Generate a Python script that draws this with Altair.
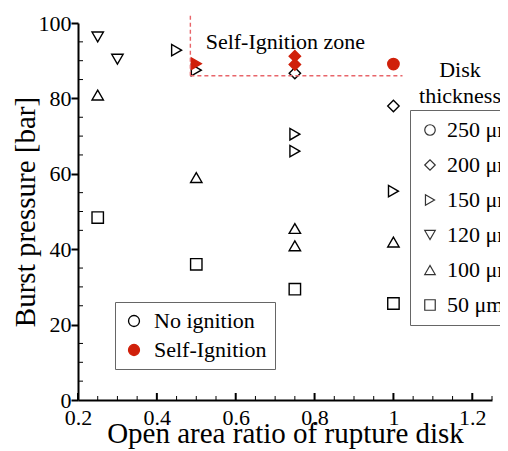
import altair as alt
import pandas as pd

# ---- data ----
ratio = [0.25, 0.30, 0.45, 0.50, 0.75, 0.75, 1.00, 0.25, 0.50, 0.75, 0.75, 1.00,
         0.25, 0.50, 0.75, 1.00, 0.75, 1.00, 0.50, 0.75, 0.75, 1.00]
pressure = [96.3, 90.4, 92.8, 87.5, 70.5, 66.0, 55.4, 80.9, 59.0, 45.5, 40.9, 41.9,
            48.4, 36.0, 29.4, 25.6, 86.7, 78.0, 89.2, 91.2, 89.0, 89.1]
thickness = ["120 μm", "120 μm", "150 μm", "150 μm", "150 μm", "150 μm", "150 μm",
             "100 μm", "100 μm", "100 μm", "100 μm", "100 μm",
             "50 μm", "50 μm", "50 μm", "50 μm", "200 μm", "200 μm",
             "150 μm", "200 μm", "200 μm", "250 μm"]
ignition = ["No ignition", "No ignition", "No ignition", "No ignition", "No ignition",
            "No ignition", "No ignition", "No ignition", "No ignition", "No ignition",
            "No ignition", "No ignition", "No ignition", "No ignition", "No ignition",
            "No ignition", "No ignition", "No ignition",
            "Self-Ignition", "Self-Ignition", "Self-Ignition", "Self-Ignition"]

thickness_order = ["250 μm", "200 μm", "150 μm", "120 μm", "100 μm", "50 μm"]
shapes = ["circle", "diamond", "triangle-right", "triangle-down", "triangle-up", "square"]
ignition_order = ["No ignition", "Self-Ignition"]

x_major = [0.2, 0.4, 0.6, 0.8, 1, 1.2]
x_minor = [0.25, 0.3, 0.35, 0.45, 0.5, 0.55, 0.65, 0.7, 0.75, 0.85, 0.9, 0.95,
           1.05, 1.1, 1.15, 1.25]
y_major = [0, 20, 40, 60, 80, 100]
y_minor = [5, 10, 15, 25, 30, 35, 45, 50, 55, 65, 70, 75, 85, 90, 95]

zone_x = [0.485, 1.023]
zone_y = [86.0, 102.0]
zone_label = "Self-Ignition zone"
zone_label_pos = [0.726, 93.0]

RED = "#d0200a"
DASH = "#e8656a"
FONT = "Liberation Serif"
W, H = 414, 377

df = pd.DataFrame({"ratio": ratio, "pressure": pressure,
                   "thickness": thickness, "ignition": ignition})

xscale = alt.Scale(domain=[0.2, 1.25], nice=False, zero=False)
yscale = alt.Scale(domain=[0, 100], nice=False, zero=False)

ign_legend = alt.Legend(
    title=None, orient="none", legendX=37, legendY=279,
    symbolType="circle", symbolSize=120, symbolStrokeWidth=1.3,
    labelFont=FONT, labelFontSize=22, labelColor="black", labelOffset=9,
    rowPadding=7, padding=8, strokeColor="#666", fillColor="white",
)

points = alt.Chart(df).mark_point(filled=True, size=130, strokeWidth=1.4, opacity=1).encode(
    x=alt.X("ratio:Q", scale=xscale,
            axis=alt.Axis(values=x_major, format="~g", title="Open area ratio of rupture disk",
                          ticks=False, tickSize=0, labelPadding=7, labelFlush=False,
                          titlePadding=-9, grid=False)),
    y=alt.Y("pressure:Q", scale=yscale,
            axis=alt.Axis(values=y_major, title="Burst pressure [bar]",
                          tickSize=7, tickWidth=2, tickColor="black", labelPadding=0,
                          labelFlush=False, titlePadding=-2, grid=False)),
    shape=alt.Shape("thickness:N", scale=alt.Scale(domain=thickness_order, range=shapes),
                    legend=alt.Legend(
                        title=None, orient="none", legendX=332, legendY=87,
                        symbolSize=110, symbolStrokeColor="#333", symbolFillColor="transparent",
                        symbolStrokeWidth=1.2, labelFont=FONT, labelFontSize=22,
                        labelColor="black", labelOffset=6, rowPadding=13, padding=9,
                        strokeColor="#666", fillColor="white",
                        labelExpr="datum.label == '50 μm' ? '\u2007' + datum.label : datum.label")),
    fill=alt.Fill("ignition:N", scale=alt.Scale(domain=ignition_order, range=["transparent", RED]),
                  legend=ign_legend),
    stroke=alt.Stroke("ignition:N", scale=alt.Scale(domain=ignition_order, range=["black", RED]),
                      legend=ign_legend),
)

# inward major x ticks
xt = alt.Chart(pd.DataFrame({"ratio": x_major})).mark_rule(color="black", strokeWidth=2).encode(
    x=alt.X("ratio:Q", scale=xscale),
    y=alt.value(H), y2=alt.value(H - 7))
# inward minor x ticks
xm = alt.Chart(pd.DataFrame({"ratio": x_minor})).mark_rule(color="black", strokeWidth=1).encode(
    x=alt.X("ratio:Q", scale=xscale),
    y=alt.value(H), y2=alt.value(H - 4))
# inward minor y ticks
ym = alt.Chart(pd.DataFrame({"pressure": y_minor})).mark_rule(color="black", strokeWidth=1).encode(
    y=alt.Y("pressure:Q", scale=yscale),
    x=alt.value(0), x2=alt.value(5))

# dashed self-ignition zone boundary
vline = alt.Chart(pd.DataFrame({"a": [0]})).mark_rule(
    color=DASH, strokeWidth=1.4, strokeDash=[4, 3]).encode(
    x=alt.datum(zone_x[0], scale=xscale),
    y=alt.datum(zone_y[0], scale=yscale), y2=alt.datum(zone_y[1]))
hline = alt.Chart(pd.DataFrame({"a": [0]})).mark_rule(
    color=DASH, strokeWidth=1.4, strokeDash=[4, 3]).encode(
    x=alt.datum(zone_x[0], scale=xscale), x2=alt.datum(zone_x[1]),
    y=alt.datum(zone_y[0], scale=yscale))

zone_text = alt.Chart(pd.DataFrame({"a": [0]})).mark_text(
    font=FONT, fontSize=22, color="black", baseline="alphabetic", align="center",
    text=zone_label).encode(
    x=alt.datum(zone_label_pos[0], scale=xscale),
    y=alt.datum(zone_label_pos[1], scale=yscale))

disk_title = alt.Chart(pd.DataFrame({"a": [0]})).mark_text(
    font=FONT, fontSize=22, color="black", baseline="alphabetic", align="center",
    lineHeight=26, text=["Disk", "thickness"]).encode(
    x=alt.value(382), y=alt.value(54))

chart = alt.layer(points, xt, xm, ym, vline, hline, zone_text, disk_title).properties(
    width=W, height=H,
    autosize=alt.AutoSizeParams(type="none"),
    padding={"left": 70, "top": 15, "right": 8, "bottom": 51},
).configure_view(stroke=None).configure_axis(
    labelFont=FONT, titleFont=FONT, labelFontSize=22, titleFontSize=29,
    titleFontWeight="normal", labelColor="black", titleColor="black",
    domainColor="black", domainWidth=2,
)

chart.save("out.html", embed_options={"renderer": "svg", "actions": False})
